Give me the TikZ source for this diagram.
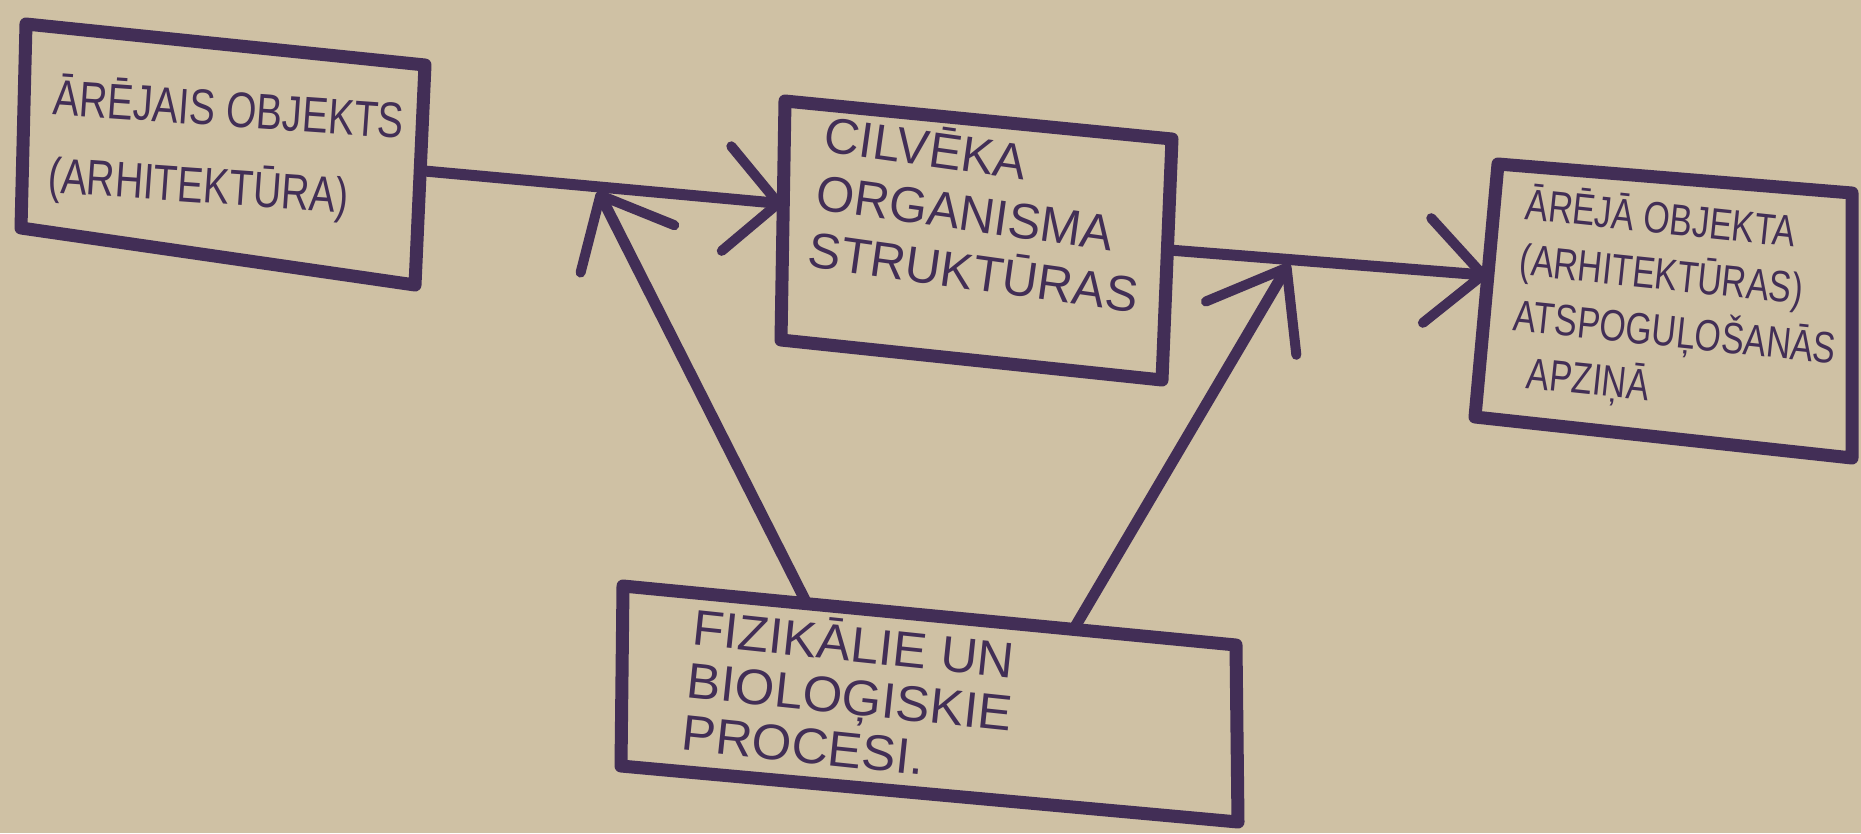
\documentclass[tikz,border=0pt]{standalone}
\usepackage{fontspec}
\newfontfamily\handA[FakeStretch=0.78]{Liberation Sans}
\newfontfamily\handB[FakeStretch=0.98]{Liberation Sans}
\newfontfamily\handC[FakeStretch=0.77]{Liberation Sans}
\newfontfamily\handD[FakeStretch=1.02]{Liberation Sans}
\usetikzlibrary{arrows.meta,calc}
\definecolor{paper}{RGB}{207,193,164}
\definecolor{ink}{RGB}{66,46,86}
\begin{document}
\begin{tikzpicture}[x=1pt,y=-1pt,
  box/.style={draw=ink,line width=13pt,line join=round,line cap=round},
  conn/.style={draw=ink,line width=11pt,line cap=round},
  barb/.style={-{Straight Barb[round,length=#1,width=105pt,line width=10pt]}},
  txt/.style={text=ink,align=left,inner sep=0pt}]
\fill[paper] (0,0) rectangle (1861,833);
\useasboundingbox (0,0) rectangle (1861,833);

% box corners
\coordinate (a1) at (26,24);   \coordinate (a2) at (425,65);
\coordinate (a3) at (415,285); \coordinate (a4) at (21,228);
\coordinate (b1) at (785,101); \coordinate (b2) at (1172,139);
\coordinate (b3) at (1162,380);\coordinate (b4) at (781,340);
\coordinate (c1) at (1498,164);\coordinate (c2) at (1852,193);
\coordinate (c3) at (1852,458);\coordinate (c4) at (1475,417);
\coordinate (d1) at (623,586); \coordinate (d2) at (1236,645);
\coordinate (d3) at (1238,822);\coordinate (d4) at (621,766);

\draw[box] (a1) -- (a2) -- (a3) -- (a4) -- cycle;
\draw[box] (b1) -- (b2) -- (b3) -- (b4) -- cycle;
\draw[box] (c1) -- (c2) -- (c3) -- (c4) -- cycle;
\draw[box] (d1) -- (d2) -- (d3) -- (d4) -- cycle;

% texts
\node[txt,rotate=-4,font={\handA\fontsize{50}{78}\selectfont}] (t1) at (226,150)
  {ĀRĒJAIS OBJEKTS\\(ARHITEKTŪRA)};
\node[txt,rotate=-8,font={\handB\fontsize{50}{58}\selectfont}] (t2) at (982,212)
  {CILVĒKA\\ORGANISMA\\STRUKTŪRAS};
\node[txt,rotate=-6,font={\handC\fontsize{44}{56}\selectfont}] (t3) at (1678,306)
  {ĀRĒJĀ OBJEKTA\\(ARHITEKTŪRAS)\\ATSPOGUĻOŠANĀS\\\ \ APZIŅĀ};
\node[txt,rotate=-6,font={\handD\fontsize{50}{53}\selectfont}] (t4) at (850,694)
  {FIZIKĀLIE UN\\BIOLOĢISKIE\\PROCESI.};

% connector endpoints
\coordinate (p1s) at ($(a2)!0.48!(a3)$);
\coordinate (p1e) at ($(b1)!0.43!(b4)$);
\coordinate (p2s) at ($(b2)!0.46!(b3)$);
\coordinate (p2e) at ($(c1)!0.44!(c4)$);
\coordinate (m1) at ($(p1s)!0.49!(p1e)$);
\coordinate (m2) at ($(p2s)!0.38!(p2e)$);
\coordinate (q1) at ($(d1)!0.30!(d2)$);
\coordinate (q2) at ($(d1)!0.735!(d2)$);

\draw[conn,barb=52pt] (p1s) -- (p1e);
\draw[conn,barb=56pt] (p2s) -- (p2e);
\draw[conn,barb=60pt] (q1) -- ([yshift=-4pt]m1);
\draw[conn,barb=70pt] (q2) -- ([yshift=-4pt]m2);
\end{tikzpicture}
\end{document}
